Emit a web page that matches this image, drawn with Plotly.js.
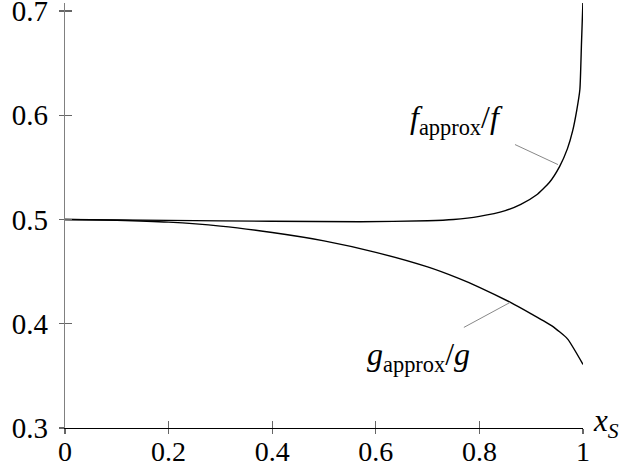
<!DOCTYPE html>
<html>
<head>
<meta charset="utf-8">
<script src="https://cdn.plot.ly/plotly-3.0.1.min.js"></script>
<style>html,body{margin:0;padding:0;background:#fff;}#chart{width:628px;height:471px;}</style>
</head>
<body>
<div id="chart"></div>
<script>
// Data
const fX = [0, 0.2, 0.4, 0.57, 0.7, 0.75, 0.8, 0.85, 0.88, 0.91, 0.935, 0.955, 0.97, 0.98, 0.988, 0.994, 0.997, 1.0];
const fY = [0.5, 0.4992, 0.4983, 0.4979, 0.4988, 0.5, 0.503, 0.5085, 0.5145, 0.5235, 0.5355, 0.551, 0.568, 0.585, 0.605, 0.625, 0.668, 0.711];
const gX = [0, 0.1, 0.2, 0.3, 0.4, 0.5, 0.6, 0.7, 0.76, 0.8, 0.86, 0.9, 0.94, 0.97, 1.0];
const gY = [0.5, 0.4993, 0.4975, 0.4937, 0.4875, 0.4795, 0.4685, 0.4545, 0.4435, 0.435, 0.4205, 0.4095, 0.398, 0.3855, 0.361];
const xTicks = [0, 0.2, 0.4, 0.6, 0.8, 1];
const xTickText = ['0', '0.2', '0.4', '0.6', '0.8', '1'];
const yTicks = [0.3, 0.4, 0.5, 0.6, 0.7];
const yTickText = ['0.3', '0.4', '0.5', '0.6', '0.7'];
const fLabel = '<i>f</i><sub>approx</sub>/<i>f</i>';
const gLabel = '<i>g</i><sub>approx</sub>/<i>g</i>';
const xLabel = '<i>x</i><sub><i>S</i></sub>';

const FONT = 'Liberation Serif, Times New Roman, serif';
const lineStyle = {color: '#000', width: 1.4, shape: 'spline', smoothing: 0.5};
const TICKC = '#666';

const traces = [
  {x: fX, y: fY, mode: 'lines', line: lineStyle, hoverinfo: 'skip', showlegend: false},
  {x: gX, y: gY, xaxis: 'x2', yaxis: 'y2', mode: 'lines', line: lineStyle, hoverinfo: 'skip', showlegend: false}
];

const xr = [0, 1];
const yr = [0.3, 0.7077];

const layout = {
  width: 628, height: 471,
  margin: {l: 65, r: 45, t: 3, b: 43, pad: 0},
  paper_bgcolor: '#fff', plot_bgcolor: '#fff',
  font: {family: FONT, size: 28, color: '#000'},
  showlegend: false,
  xaxis: {
    range: xr, showgrid: false, zeroline: false,
    showline: true, linecolor: '#000', linewidth: 1.3,
    ticks: 'outside', ticklen: 5, tickwidth: 1.2, tickcolor: TICKC,
    tickmode: 'array', tickvals: xTicks, ticktext: xTickText,
    tickfont: {family: FONT, size: 28}, ticklabelstandoff: -7, ticklabeloverflow: 'allow'
  },
  yaxis: {
    range: yr, showgrid: false, zeroline: false,
    showline: true, linecolor: '#808080', linewidth: 1.3,
    ticks: 'outside', ticklen: 5, tickwidth: 1.2, tickcolor: TICKC,
    tickmode: 'array', tickvals: yTicks, ticktext: yTickText,
    tickfont: {family: FONT, size: 29}, ticklabelstandoff: 5, ticklabeloverflow: 'allow'
  },
  xaxis2: {
    overlaying: 'x', anchor: 'y2', side: 'bottom', range: xr,
    showgrid: false, zeroline: false, showline: false,
    ticks: 'inside', ticklen: 7, tickwidth: 1.2, tickcolor: TICKC,
    tickmode: 'array', tickvals: xTicks, showticklabels: false
  },
  yaxis2: {
    overlaying: 'y', anchor: 'x2', side: 'left', range: yr,
    showgrid: false, zeroline: false, showline: false,
    ticks: 'inside', ticklen: 7, tickwidth: 1.2, tickcolor: TICKC,
    tickmode: 'array', tickvals: yTicks, showticklabels: false
  },
  shapes: [
    {type: 'line', xref: 'x', yref: 'y', x0: 0.8687, y0: 0.5719, x1: 0.9517, y1: 0.5527, line: {color: '#888', width: 1}},
    {type: 'line', xref: 'x', yref: 'y', x0: 0.770, y0: 0.3965, x1: 0.859, y1: 0.4204, line: {color: '#888', width: 1}}
  ],
  annotations: [
    {text: fLabel, xref: 'x', yref: 'y', x: 0.756, y: 0.596, showarrow: false, xanchor: 'center', yanchor: 'middle', font: {family: FONT, size: 32}},
    {text: gLabel, xref: 'x', yref: 'y', x: 0.683, y: 0.3686, showarrow: false, xanchor: 'center', yanchor: 'middle', font: {family: FONT, size: 32}},
    {text: xLabel, xref: 'paper', yref: 'paper', x: 1, y: 0, xshift: 8, yshift: 5, showarrow: false, xanchor: 'left', yanchor: 'middle', font: {family: FONT, size: 31}}
  ]
};

Plotly.newPlot('chart', traces, layout, {displayModeBar: false, staticPlot: true});
</script>
</body>
</html>
